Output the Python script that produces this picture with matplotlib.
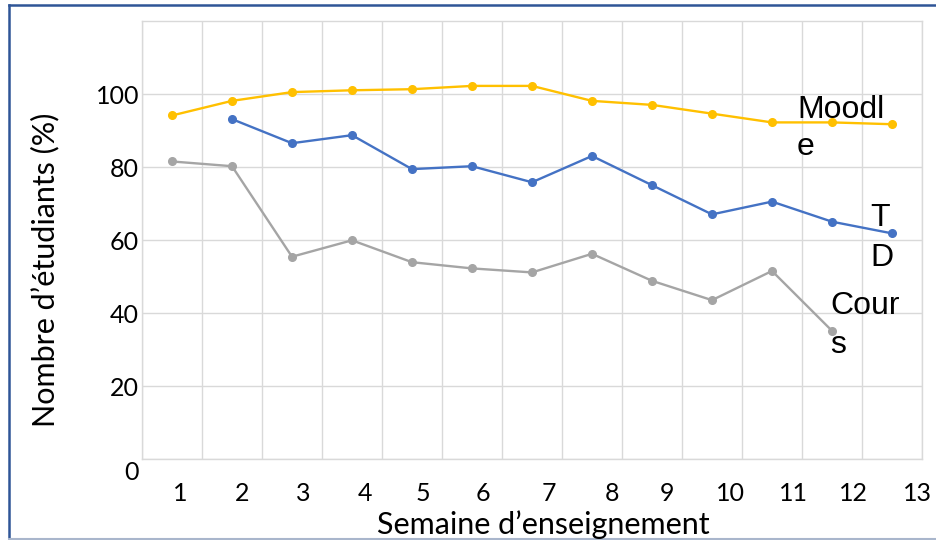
import matplotlib
matplotlib.use("Agg")
import matplotlib.pyplot as plt
from matplotlib.transforms import ScaledTranslation
from matplotlib.lines import Line2D

weeks = ["1", "2", "3", "4", "5", "6", "7", "8", "9", "10", "11", "12", "13"]
moodle = [94.2, 98.2, 100.6, 101.1, 101.4, 102.3, 102.3, 98.2, 97.1, 94.7, 92.3, 92.3, 91.8]
td = [None, 93.2, 86.6, 88.8, 79.5, 80.3, 75.9, 83.1, 75.1, 67.1, 70.6, 65.1, 61.9]
cours = [81.6, 80.3, 55.5, 60.0, 54.0, 52.3, 51.2, 56.3, 48.9, 43.6, 51.6, 35.2, None]
week_label_pos = [0.13, 1.17, 2.18, 3.22, 4.18, 5.18, 6.28, 7.33, 8.25, 9.3, 10.35, 11.35, 12.43]
yticks = [0, 20, 40, 60, 80, 100]

W, H = 936, 540
fig = plt.figure(figsize=(W / 100, H / 100), dpi=100)
ax = fig.add_axes([142 / W, 1 - 459.3 / H, 780 / W, 438 / H])

x = list(range(len(weeks)))
def seg(vals):
    xs = [i for i, v in zip(x, vals) if v is not None]
    ys = [v for v in vals if v is not None]
    return xs, ys

ms = 5.5
for vals, col in [(cours, "#A5A5A5"), (td, "#4472C4"), (moodle, "#FFC000")]:
    xs, ys = seg(vals)
    ax.plot(xs, ys, color=col, lw=1.7, marker="o", ms=ms, mec=col, mfc=col, zorder=3)

ax.set_xlim(-0.5, len(weeks) - 0.5)
ax.set_ylim(0, 120)
ax.set_xticks([i - 0.5 for i in range(len(weeks) + 1)], minor=True)
ax.set_xticks(week_label_pos)
ax.set_xticklabels(weeks, fontfamily="Lato", fontsize=18)
ax.set_yticks(yticks)
ax.set_yticks([120], minor=True)
ax.set_yticklabels([str(v) for v in yticks], fontfamily="Lato", fontsize=18)
ax.grid(True, which="minor", axis="x", color="#D9D9D9", lw=1.0)
ax.grid(True, which="major", axis="y", color="#D9D9D9", lw=1.0)
ax.tick_params(axis="both", which="both", length=0)
ax.tick_params(axis="x", pad=16)
ax.tick_params(axis="y", pad=2)
for s in ax.spines.values():
    s.set_color("#D9D9D9")
    s.set_linewidth(1.0)
ax.set_axisbelow(True)

# shift the "0" label down like the reference
lab0 = ax.get_yticklabels()[0]
lab0.set_transform(lab0.get_transform() + ScaledTranslation(0, -11 / 100, fig.dpi_scale_trans))

fig.text(543 / W, 1 - 525 / H, "Semaine d\u2019enseignement", fontfamily="Lato", fontsize=22,
         ha="center", va="center")
fig.text(45 / W, 1 - 270 / H, "Nombre d\u2019\u00e9tudiants (%)", fontfamily="Lato", fontsize=22,
         ha="center", va="center", rotation=90)

# series labels (wrapped as in the reference)
def px2data(px, py):
    return (px - 172) / 60.0, (459.3 - py) / 3.65

lbl_font = dict(fontfamily="Liberation Sans", fontsize=23, color="black", va="baseline", ha="left")
for txt, px, py in [("Moodl", 797, 118), ("e", 797, 155),
                    ("T", 870, 226), ("D", 870, 266),
                    ("Cour", 830, 314), ("s", 830, 353)]:
    dx, dy = px2data(px, py)
    ax.text(dx, dy, txt, zorder=4, **lbl_font)

# figure frame
fig.add_artist(Line2D([9 / W, 9 / W], [1 - 5 / H, 1 - 539 / H], transform=fig.transFigure,
                      color="#2F5597", lw=1.8))
fig.add_artist(Line2D([9 / W, 1.0], [1 - 5 / H, 1 - 5 / H], transform=fig.transFigure,
                      color="#2F5597", lw=1.8))
fig.add_artist(Line2D([9 / W, 1.0], [1 - 539 / H, 1 - 539 / H], transform=fig.transFigure,
                      color="#A9B6CC", lw=1.5))

fig.savefig("out.png", dpi=100)
